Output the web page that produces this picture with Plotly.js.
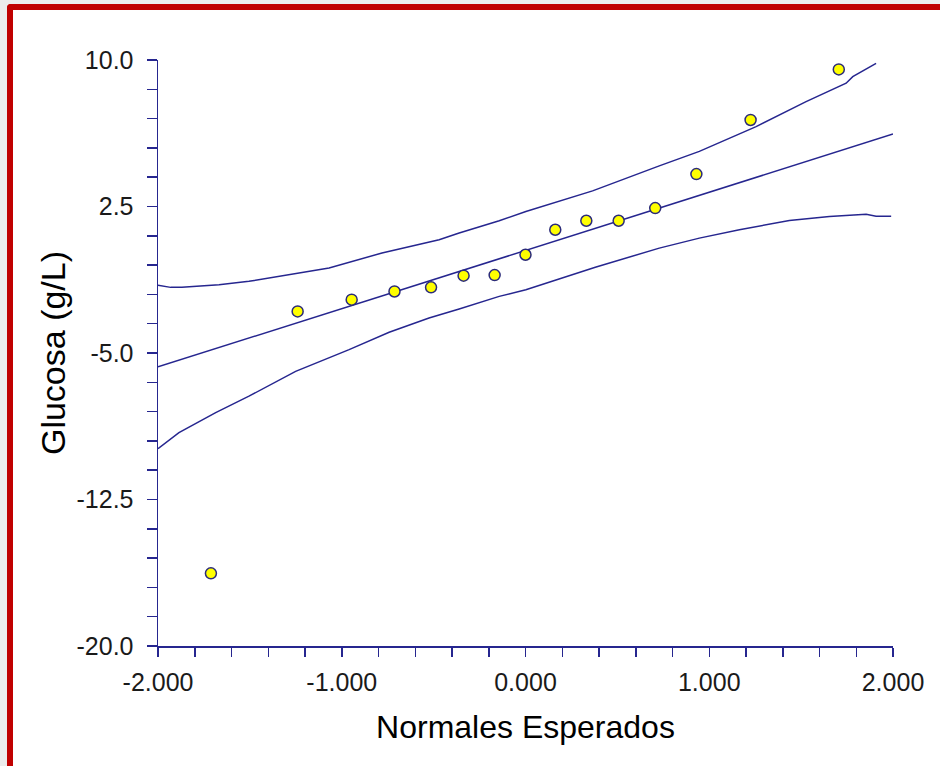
<!DOCTYPE html>
<html>
<head>
<meta charset="utf-8">
<script src="https://cdn.plot.ly/plotly-3.0.1.min.js"></script>
<style>
  html, body { margin: 0; padding: 0; width: 940px; height: 766px; overflow: hidden; background: #ececec; }
  #frame { position: absolute; left: 7px; top: 4px; width: 940px; height: 766px;
           background: #ffffff; border-left: 6px solid #c00000; border-top: 6px solid #c00000;
           border-top-left-radius: 4px; }
  #chart { position: absolute; left: 0; top: 0; width: 940px; height: 766px; }
</style>
</head>
<body>
<div id="frame"></div>
<div id="chart"></div>
<script>
// Normal probability plot data
const normX = [-1.712, -1.240, -0.946, -0.713, -0.514, -0.337, -0.168, 0.000, 0.162, 0.331, 0.507, 0.706, 0.930, 1.225, 1.705];
const glucY = [-16.28, -2.87, -2.27, -1.85, -1.64, -1.04, -1.01, 0.03, 1.31, 1.77, 1.77, 2.42, 4.16, 6.93, 9.52];

// Fitted line
const fitX = [-2.0, 2.0];
const fitY = [-5.71, 6.21];

// Upper confidence band
const upperX = [-2.000, -1.931, -1.870, -1.668, -1.505, -1.325, -1.069, -0.781, -0.470, -0.361, -0.143, 0.002, 0.365, 0.728, 0.946, 1.255, 1.527, 1.745, 1.781, 1.908];
const upperY = [-1.53, -1.64, -1.64, -1.50, -1.33, -1.04, -0.65, 0.12, 0.80, 1.14, 1.77, 2.24, 3.30, 4.58, 5.32, 6.59, 7.87, 8.81, 9.15, 9.83];

// Lower confidence band
const lowerX = [-2.000, -1.886, -1.686, -1.505, -1.251, -0.960, -0.742, -0.525, -0.361, -0.143, 0.002, 0.380, 0.728, 0.946, 1.164, 1.436, 1.654, 1.854, 1.908, 1.990];
const lowerY = [-9.90, -9.08, -8.05, -7.21, -5.94, -4.83, -3.94, -3.21, -2.75, -2.10, -1.76, -0.61, 0.37, 0.88, 1.31, 1.78, 1.99, 2.10, 2.00, 2.00];

// Tick labels
const xTickVals = [-2, -1, 0, 1, 2];
const xTickText = ["-2.000", "-1.000", "0.000", "1.000", "2.000"];
const yTickVals = [10, 2.5, -5, -12.5, -20];
const yTickText = ["10.0", "2.5", "-5.0", "-12.5", "-20.0"];

const navy = "#26268f";
const lineStyle = { color: navy, width: 1.5 };

const traces = [
  { x: upperX, y: upperY, type: "scatter", mode: "lines", line: lineStyle, hoverinfo: "skip" },
  { x: fitX, y: fitY, type: "scatter", mode: "lines", line: lineStyle, hoverinfo: "skip" },
  { x: lowerX, y: lowerY, type: "scatter", mode: "lines", line: lineStyle, hoverinfo: "skip" },
  { x: normX, y: glucY, type: "scatter", mode: "markers",
    marker: { color: "#ffff00", size: 11, symbol: "circle", line: { color: "#2b2b7a", width: 1.5 } } }
];

const tickFont = { family: "Liberation Sans, Arial, sans-serif", size: 25, color: "#1a1a1a" };
const titleFont = { family: "Liberation Sans, Arial, sans-serif", size: 32, color: "#000000" };

const layout = {
  width: 940, height: 766,
  margin: { l: 158, r: 47, t: 60, b: 120 },
  paper_bgcolor: "rgba(0,0,0,0)",
  plot_bgcolor: "rgba(0,0,0,0)",
  showlegend: false,
  xaxis: {
    range: [-2, 2], autorange: false,
    tickmode: "array", tickvals: xTickVals, ticktext: xTickText,
    ticks: "outside", ticklen: 9, tickwidth: 1.5, tickcolor: navy,
    minor: { tick0: 0, dtick: 0.2, ticks: "outside", ticklen: 9, tickwidth: 1.5, tickcolor: navy, showgrid: false },
    showline: true, linecolor: navy, linewidth: 1.5,
    showgrid: false, zeroline: false,
    tickfont: tickFont, ticklabelstandoff: 4,
    title: { text: "Normales Esperados", font: titleFont, standoff: 21 }
  },
  yaxis: {
    range: [-20, 10], autorange: false,
    tickmode: "array", tickvals: yTickVals, ticktext: yTickText,
    ticks: "outside", ticklen: 10, tickwidth: 1.5, tickcolor: navy,
    minor: { tick0: 10, dtick: 1.5, ticks: "outside", ticklen: 10, tickwidth: 1.5, tickcolor: navy, showgrid: false },
    showline: true, linecolor: navy, linewidth: 1.5,
    showgrid: false, zeroline: false,
    tickfont: tickFont, ticklabelstandoff: 8,
    title: { text: "Glucosa (g/L)", font: Object.assign({}, titleFont, { size: 34 }), standoff: 0 }
  },
  shapes: [
    { type: "line", xref: "paper", yref: "paper", x0: -10 / 735, x1: 0, y0: 0, y1: 0,
      line: { color: navy, width: 1.5 } }
  ]
};

Plotly.newPlot("chart", traces, layout, { displayModeBar: false, staticPlot: true });
</script>
</body>
</html>
